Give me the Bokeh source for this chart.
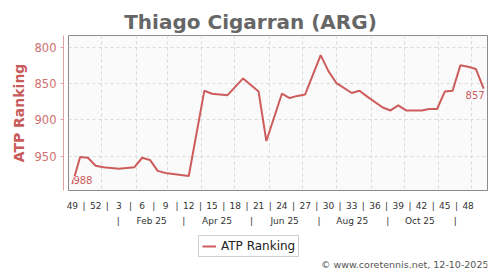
from datetime import date
from bokeh.plotting import figure
from bokeh.layouts import column
from bokeh.models import (ColumnDataSource, Range1d, FixedTicker, LinearAxis, Label,
                          Legend, LegendItem)
from bokeh.embed import file_html
from bokeh.resources import INLINE

# ---------------- data ----------------
title_text = "Thiago Cigarran (ARG)"
series_name = "ATP Ranking"
footer_text = "\u00a9 www.coretennis.net, 12-10-2025"

rank_dates = [
    "2024-12-02", "2024-12-09", "2024-12-16", "2024-12-23", "2024-12-30",
    "2025-01-13", "2025-01-27", "2025-02-03", "2025-02-10", "2025-02-17",
    "2025-02-24", "2025-03-17", "2025-03-31", "2025-04-07", "2025-04-21",
    "2025-05-05", "2025-05-19", "2025-05-26", "2025-06-09", "2025-06-16",
    "2025-06-23", "2025-06-30", "2025-07-14", "2025-07-21", "2025-07-28",
    "2025-08-11", "2025-08-18", "2025-08-25", "2025-09-08", "2025-09-15",
    "2025-09-22", "2025-09-29", "2025-10-06", "2025-10-13", "2025-10-20",
    "2025-10-27", "2025-11-03", "2025-11-10", "2025-11-17", "2025-11-24",
    "2025-12-01", "2025-12-08",
]
rank_values = [
    988, 951, 952, 963, 965,
    967, 965, 952, 955, 970,
    973, 977, 860, 864, 866,
    843, 861, 929, 864, 870,
    867, 865, 811, 833, 849,
    863, 860, 868, 883, 887,
    880, 887, 887, 887, 885,
    885, 861, 860, 825, 827,
    830, 857,
]

week_label_years = [2024, 2024] + [2025] * 16
week_label_numbers = [49, 52, 3, 6, 9, 12, 15, 18, 21, 24, 27, 30, 33, 36, 39, 42, 45, 48]

month_labels = ["Feb 25", "Apr 25", "Jun 25", "Aug 25", "Oct 25"]
month_label_dates = ["2025-02-15", "2025-04-15", "2025-06-15", "2025-08-15", "2025-10-15"]
month_sep_dates = ["2025-01-16", "2025-03-16", "2025-05-16", "2025-07-16", "2025-09-16", "2025-11-16"]
grid_month_dates = ["2025-%02d-01" % m for m in range(1, 13)]

y_ticks = [800, 850, 900, 950]

# ---------------- helpers ----------------
origin = date(2024, 12, 2)


def day_pos(s):
    return float((date.fromisoformat(s) - origin).days)


def week_pos(s):
    # weekly ranking is drawn in the middle of its week
    return day_pos(s) + 3.5


xs = [week_pos(d) for d in rank_dates]
src = ColumnDataSource(data=dict(x=xs, rank=rank_values, d=rank_dates))

RED = "#cd5c5c"
FONT = "DejaVu Sans"


def strip(height):
    # blank strip whose frame is aligned with the chart frame (68..487 px); data units = pixels
    s = figure(width=500, height=height, output_backend="svg", toolbar_location=None,
               x_range=Range1d(68, 487), y_range=Range1d(height, 0),
               min_border_left=68, min_border_right=13, min_border_top=0, min_border_bottom=0,
               x_axis_location=None, y_axis_location=None)
    s.outline_line_color = None
    s.background_fill_color = "white"
    s.border_fill_color = "white"
    s.xgrid.visible = False
    s.ygrid.visible = False
    return s


# ---------------- title strip ----------------
t = strip(35)
t.add_layout(Label(x=250, y=21.5, text=title_text, text_align="center", text_baseline="alphabetic",
                   text_font=FONT, text_font_size="20px", text_font_style="bold",
                   text_color="#666666"))

# ---------------- chart ----------------
p = figure(width=500, height=195, output_backend="svg", toolbar_location=None,
           x_range=Range1d(0, 378), y_range=Range1d(997, 784),
           min_border_left=68, min_border_right=13, min_border_top=0, min_border_bottom=40)

p.background_fill_color = "#fafafa"
p.border_fill_color = "white"
p.outline_line_color = "#8c8c8c"
p.outline_line_width = 1

# grids
p.xgrid.ticker = FixedTicker(ticks=[day_pos(d) for d in grid_month_dates])
p.ygrid.ticker = FixedTicker(ticks=y_ticks)
for g in (p.xgrid[0], p.ygrid[0]):
    g.grid_line_color = "#d9d9d9"
    g.grid_line_dash = "3 3"
    g.grid_line_width = 1

# default left axis -> invisible spacer keeping the red axis 5px off the frame
sp = p.yaxis[0]
sp.ticker = FixedTicker(ticks=y_ticks[:1])
sp.major_label_overrides = {y_ticks[0]: ""}
sp.major_label_text_font_size = "1px"
sp.major_label_text_color = None
sp.axis_line_color = None
sp.major_tick_line_color = None
sp.minor_tick_line_color = None
sp.major_tick_out = 5
sp.major_tick_in = 0
sp.minor_tick_out = 0
sp.major_label_standoff = 0

# real y axis
ya = LinearAxis(ticker=FixedTicker(ticks=y_ticks))
ya.axis_line_color = "#dda3a3"
ya.major_tick_line_color = "#dda3a3"
ya.minor_tick_line_color = None
ya.major_tick_out = 3
ya.major_tick_in = 0
ya.major_label_standoff = 4
ya.major_label_text_font = FONT
ya.major_label_text_font_size = "11.5px"
ya.major_label_text_color = "#d07070"
ya.axis_label = series_name
ya.axis_label_text_font = FONT
ya.axis_label_text_font_size = "14px"
ya.axis_label_text_font_style = "bold"
ya.axis_label_text_color = "#c85a5a"
ya.axis_label_standoff = 5
p.add_layout(ya, "left")

# week axis (row 1)
wk_pos = [day_pos(date.fromisocalendar(y, w, 1).isoformat()) + 3.5
          for y, w in zip(week_label_years, week_label_numbers)]
wk_sep = [(a + b) / 2 for a, b in zip(wk_pos[:-1], wk_pos[1:])]
overrides1 = {v: str(n) for v, n in zip(wk_pos, week_label_numbers)}
overrides1.update({v: "|" for v in wk_sep})
xa = p.xaxis[0]
xa.ticker = FixedTicker(ticks=sorted(wk_pos + wk_sep))
xa.major_label_overrides = overrides1

# month axis (row 2)
mo_pos = [day_pos(d) for d in month_label_dates]
mo_sep = [day_pos(d) for d in month_sep_dates]
overrides2 = {v: t_ for v, t_ in zip(mo_pos, month_labels)}
overrides2.update({v: "|" for v in mo_sep})
xb = LinearAxis(ticker=FixedTicker(ticks=sorted(mo_pos + mo_sep)))
xb.major_label_overrides = overrides2
p.add_layout(xb, "below")

for ax, so in ((xa, 10), (xb, 2)):
    ax.axis_line_color = None
    ax.major_tick_line_color = None
    ax.minor_tick_line_color = None
    ax.major_tick_out = 0
    ax.major_tick_in = 0
    ax.minor_tick_out = 0
    ax.major_label_standoff = so
    ax.major_label_text_font = FONT
    ax.major_label_text_font_size = "9px"
    ax.major_label_text_color = "#333333"

# line
p.line(x="x", y="rank", source=src, line_color=RED, line_width=2)

# first / last value labels
p.add_layout(Label(x=xs[0], y=rank_values[0], text=str(rank_values[0]),
                   x_offset=1, y_offset=4, text_align="left", text_baseline="alphabetic",
                   text_font=FONT, text_font_size="10px", text_color=RED,
                   background_fill_color="#fafafa"))
p.add_layout(Label(x=xs[-1], y=rank_values[-1], text=str(rank_values[-1]),
                   x_offset=1, y_offset=-2.5, text_align="right", text_baseline="top",
                   text_font=FONT, text_font_size="10px", text_color=RED,
                   background_fill_color="#fafafa"))

# ---------------- legend + footer strip ----------------
q = strip(40)
key = q.line(x=[float("nan")], y=[float("nan")], line_color=RED, line_width=2)

lg = Legend(items=[LegendItem(label=series_name, renderers=[key])], location=(130, 13))
lg.orientation = "vertical"
lg.border_line_color = "#a0a0a0"
lg.border_line_width = 1
lg.background_fill_color = "white"
lg.background_fill_alpha = 1
lg.label_text_font = FONT
lg.label_text_font_size = "12px"
lg.label_text_color = "#222222"
lg.glyph_width = 14
lg.glyph_height = 12
lg.label_height = 12
lg.label_standoff = 5
lg.padding = 3
lg.margin = 0
lg.spacing = 0
q.add_layout(lg, "center")

q.add_layout(Label(x=487, y=34.3, x_offset=1, text=footer_text, text_align="right",
                   text_baseline="middle", text_font=FONT, text_font_size="9.5px",
                   text_color="#555555"))

layout = column(t, p, q, spacing=0)
open("out.html", "w").write(file_html(layout, INLINE))
